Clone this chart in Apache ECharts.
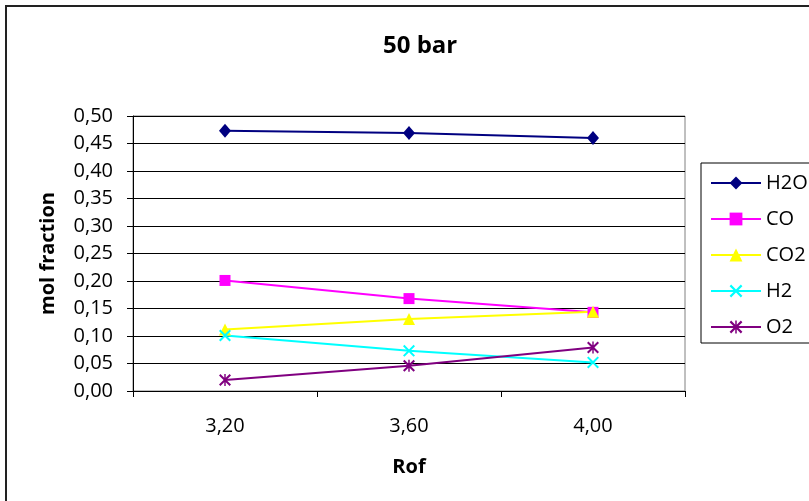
<!DOCTYPE html>
<html>
<head>
<meta charset="utf-8">
<script src="https://cdn.jsdelivr.net/npm/echarts@6/dist/echarts.min.js"></script>
<style>
  html, body { margin: 0; padding: 0; background: #fff; }
  #chart { width: 809px; height: 501px; }
</style>
</head>
<body>
<div id="chart"></div>
<script>
// Rof (oxidizer/fuel ratio) categories and mol fractions at 50 bar
const rof = ['3,20', '3,60', '4,00'];
const h2o = [0.473, 0.469, 0.460];
const co  = [0.201, 0.168, 0.143];
const co2 = [0.112, 0.131, 0.144];
const h2  = [0.101, 0.073, 0.052];
const o2  = [0.020, 0.046, 0.079];
const seriesNames = ['H2O', 'CO', 'CO2', 'H2', 'O2'];

const FONT = '"Open Sans", "DejaVu Sans", sans-serif';

// Marker shapes: a cross and an asterisk built as filled outlines
const crossPath = 'path://M0,1.2L1.2,0L5,3.8L8.8,0L10,1.2L6.2,5L10,8.8L8.8,10L5,6.2L1.2,10L0,8.8L3.8,5Z';
const starPath = crossPath + 'M4.4,0L5.6,0L5.6,10L4.4,10Z';

function lineSeries(name, data, color, symbol, size) {
  return {
    name: name,
    type: 'line',
    data: data,
    symbol: symbol,
    symbolSize: size,
    showAllSymbol: true,
    lineStyle: { color: color, width: 2 },
    itemStyle: { color: color },
    emphasis: { disabled: true },
    animation: false
  };
}

const chart = echarts.init(document.getElementById('chart'), null, { renderer: 'canvas' });
chart.setOption({
  backgroundColor: '#fff',
  animation: false,
  title: {
    text: '50 bar',
    left: 378,
    top: 29,
    textStyle: { fontFamily: FONT, fontSize: 24, fontWeight: 'bold', color: '#000' }
  },
  graphic: [{
    type: 'rect',
    shape: { x: 6, y: 6, width: 830, height: 530 },
    style: { fill: 'none', stroke: '#222', lineWidth: 2 },
    silent: true
  }],
  legend: {
    orient: 'vertical',
    left: 701,
    top: 163,
    data: seriesNames,
    itemWidth: 50,
    itemHeight: 16,
    itemGap: 16,
    padding: [10, 9, 6, 9],
    borderColor: '#000',
    borderWidth: 1,
    textStyle: { fontFamily: FONT, fontSize: 20, color: '#000' }
  },
  grid: {
    left: 133,
    right: 124,
    top: 116,
    bottom: 110,
    show: true,
    borderColor: '#808080',
    borderWidth: 1,
    backgroundColor: '#fff'
  },
  xAxis: {
    type: 'category',
    data: rof,
    boundaryGap: true,
    name: 'Rof',
    nameLocation: 'middle',
    nameGap: 66,
    nameTextStyle: { fontFamily: FONT, fontSize: 20, fontWeight: 'bold', color: '#000' },
    axisLine: { lineStyle: { color: '#000', width: 1 } },
    axisTick: { show: true, length: 6, lineStyle: { color: '#000' } },
    axisLabel: { margin: 25, fontFamily: FONT, fontSize: 20, color: '#000' },
    splitLine: { show: false }
  },
  yAxis: {
    type: 'value',
    min: 0,
    max: 0.5,
    interval: 0.05,
    name: 'mol fraction',
    nameLocation: 'middle',
    nameGap: 75,
    nameTextStyle: { fontFamily: FONT, fontSize: 20, fontWeight: 'bold', color: '#000' },
    axisLine: { show: true, lineStyle: { color: '#000', width: 1 } },
    axisTick: { show: true, length: 6, lineStyle: { color: '#000' } },
    axisLabel: {
      margin: 20,
      fontFamily: FONT,
      fontSize: 20,
      color: '#000',
      formatter: v => v.toFixed(2).replace('.', ',')
    },
    splitLine: { show: true, lineStyle: { color: '#000', width: 1 } }
  },
  series: [
    lineSeries('H2O', h2o, '#000080', 'diamond', [12, 14]),
    lineSeries('CO', co, '#FF00FF', 'rect', 11),
    lineSeries('CO2', co2, '#FFFF00', 'triangle', 12),
    lineSeries('H2', h2, '#00FFFF', crossPath, 12),
    lineSeries('O2', o2, '#800080', starPath, 12)
  ]
});
</script>
</body>
</html>
